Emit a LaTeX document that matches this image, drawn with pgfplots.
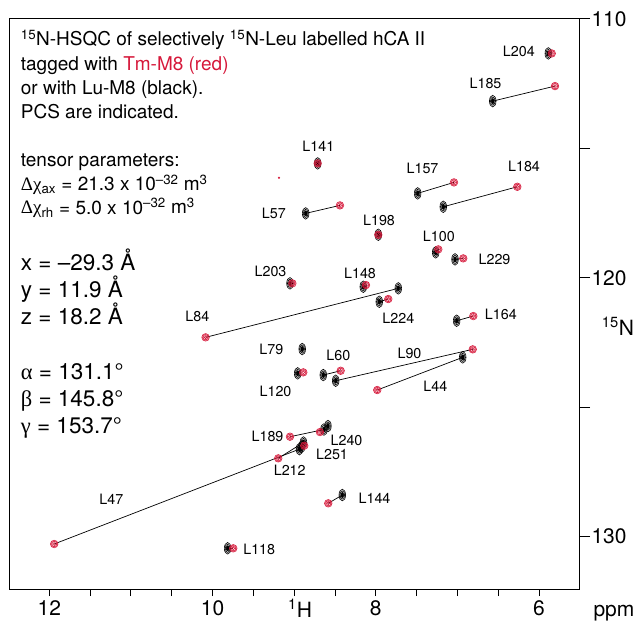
\documentclass[border=0pt]{standalone}
\usepackage{pgfplots}
\pgfplotsset{compat=1.18}
\usepackage{fontspec}
\setmainfont{TeX Gyre Heros}
\newfontfamily\grk{Liberation Serif}
\definecolor{pcsred}{RGB}{214,24,58}

\pgfdeclareplotmark{bpeak}{%
  \pgfsetlinewidth{0.6pt}%
  \pgfpathellipse{\pgfpointorigin}{\pgfqpoint{3.3pt}{0pt}}{\pgfqpoint{0pt}{5.8pt}}%
  \pgfpathellipse{\pgfpointorigin}{\pgfqpoint{2.3pt}{0pt}}{\pgfqpoint{0pt}{4.1pt}}%
  \pgfusepathqstroke
  \pgfpathellipse{\pgfpointorigin}{\pgfqpoint{1.4pt}{0pt}}{\pgfqpoint{0pt}{2.6pt}}%
  \pgfusepathqfillstroke
}
\pgfdeclareplotmark{rpeak}{%
  \pgfsetlinewidth{0.6pt}%
  \pgfpathcircle{\pgfpointorigin}{3.8pt}%
  \pgfpathcircle{\pgfpointorigin}{2.6pt}%
  \pgfpathcircle{\pgfpointorigin}{1.4pt}%
  \pgfusepathqstroke
}

\pgfplotstableread{
H N
5.886 111.336
6.567 113.178
7.487 116.741
7.173 117.259
8.712 115.583
8.859 117.514
7.969 118.340
7.266 119.019
7.029 119.290
8.153 120.347
7.724 120.409
9.051 120.216
7.957 120.927
7.009 121.660
8.901 122.753
8.957 123.691
8.643 123.757
8.491 123.977
6.935 123.073
8.635 125.861
8.586 125.726
8.908 126.525
8.886 126.362
8.935 126.618
8.410 128.390
9.815 130.448
}\blackpeaks

\pgfplotstableread{
H N
5.844 111.336
5.804 112.598
7.042 116.317
6.266 116.486
8.712 115.583
8.439 117.205
7.969 118.340
7.234 118.903
6.928 119.251
8.120 120.282
10.085 122.301
9.022 120.216
7.847 120.822
6.805 121.479
8.888 123.653
8.430 123.591
6.812 122.764
7.982 124.336
9.051 126.139
8.684 125.958
8.876 126.486
9.195 126.973
11.940 130.282
8.582 128.710
9.746 130.448
}\redpeaks

\newcommand{\lbl}{\fontsize{14.3}{14.3}\selectfont}
\newcommand{\ttl}{\fontsize{19}{19}\selectfont}
\newcommand{\bigf}{\fontsize{22.5}{22.5}\selectfont}

\begin{document}
\begin{tikzpicture}
\useasboundingbox (-9.3pt,-33pt) rectangle (629.7pt,589pt);
\begin{axis}[
  scale only axis, width=569.7pt, height=570.7pt,
  x dir=reverse, y dir=reverse,
  xmin=5.51, xmax=12.49, ymin=109.98, ymax=132.02,
  xtick={6,6.5,7,7.5,8,8.5,9,9.5,10,10.5,11,11.5,12},
  xticklabels={6,,,,8,,,,10,,,,12},
  ytick={110,115,120,125,130},
  yticklabels={110,,120,,130},
  xtick pos=bottom, ytick pos=right, tick align=outside,
  xtick style={/pgfplots/major tick length=7pt},
  ytick style={/pgfplots/major tick length=11pt},
  major tick length=9pt,
  ticklabel style={font=\fontsize{21}{21}\selectfont},
  xticklabel style={inner sep=0pt, yshift=-2pt},
  axis line style={line width=0.9pt},
  tick style={black, line width=0.9pt},
  clip=false,
]
\addplot[only marks, mark=bpeak, black] table[x=H,y=N] {\blackpeaks};
\addplot[only marks, mark=rpeak, pcsred] table[x=H,y=N] {\redpeaks};
\addplot[only marks, mark=*, mark size=0.8pt, pcsred] coordinates {(9.186,116.139)};
% PCS lines (black -> red)
\addplot[black, line width=0.7pt] coordinates {(6.567,113.178) (5.804,112.598)};
\addplot[black, line width=0.7pt] coordinates {(7.487,116.741) (7.042,116.317)};
\addplot[black, line width=0.7pt] coordinates {(7.173,117.259) (6.266,116.486)};
\addplot[black, line width=0.7pt] coordinates {(8.859,117.514) (8.439,117.205)};
\addplot[black, line width=0.7pt] coordinates {(7.029,119.290) (6.928,119.251)};
\addplot[black, line width=0.7pt] coordinates {(7.724,120.409) (10.085,122.301)};
\addplot[black, line width=0.7pt] coordinates {(7.957,120.927) (7.847,120.822)};
\addplot[black, line width=0.7pt] coordinates {(7.009,121.660) (6.805,121.479)};
\addplot[black, line width=0.7pt] coordinates {(8.643,123.757) (8.430,123.591)};
\addplot[black, line width=0.7pt] coordinates {(8.491,123.977) (6.812,122.764)};
\addplot[black, line width=0.7pt] coordinates {(6.935,123.073) (7.982,124.336)};
\addplot[black, line width=0.7pt] coordinates {(8.635,125.861) (9.051,126.139)};
\addplot[black, line width=0.7pt] coordinates {(8.886,126.362) (9.195,126.973)};
\addplot[black, line width=0.7pt] coordinates {(8.935,126.618) (11.940,130.282)};
\addplot[black, line width=0.7pt] coordinates {(8.410,128.390) (8.582,128.710)};
\addplot[black, line width=0.7pt] coordinates {(9.815,130.448) (9.746,130.448)};
\end{axis}
\begin{scope}[x=1pt,y=-1pt,shift={(-9.3pt,589pt)}]
% title block
\node[anchor=base west, font=\ttl, inner sep=0pt] at (20.7,46) {\textsuperscript{15}N-HSQC of selectively \textsuperscript{15}N-Leu labelled hCA II};
\node[anchor=base west, font=\ttl, inner sep=0pt] at (20.7,70.5) {tagged with \textcolor{pcsred}{Tm-M8 (red)}};
\node[anchor=base west, font=\ttl, inner sep=0pt] at (20.7,95) {or with Lu-M8 (black).};
\node[anchor=base west, font=\ttl, inner sep=0pt] at (20.7,119) {PCS are indicated.};
\node[anchor=base west, font=\ttl, inner sep=0pt] at (20.7,167) {tensor parameters:};
\node[anchor=base west, font=\ttl, inner sep=0pt] at (20.7,190.5) {{\grk Δχ}\textsubscript{ax} = 21.3 x 10\textsuperscript{–32} m\textsuperscript{3}};
\node[anchor=base west, font=\ttl, inner sep=0pt] at (20.7,214) {{\grk Δχ}\textsubscript{rh} = 5.0 x 10\textsuperscript{–32} m\textsuperscript{3}};
\node[anchor=base west, font=\bigf, inner sep=0pt] at (20.7,270) {x = –29.3 Å};
\node[anchor=base west, font=\bigf, inner sep=0pt] at (20.7,297.3) {y = 11.9 Å};
\node[anchor=base west, font=\bigf, inner sep=0pt] at (20.7,324.3) {z = 18.2 Å};
\node[anchor=base west, font=\bigf, inner sep=0pt] at (20.7,379.3) {{\grk α} = 131.1°};
\node[anchor=base west, font=\bigf, inner sep=0pt] at (20.7,406.7) {{\grk β} = 145.8°};
\node[anchor=base west, font=\bigf, inner sep=0pt] at (20.7,433.3) {{\grk γ} = 153.7°};
% axis labels
\node[anchor=base west, font=\fontsize{21}{21}\selectfont, inner sep=0pt] at (288,617) {\textsuperscript{1}H};
\node[anchor=base west, font=\fontsize{21}{21}\selectfont, inner sep=0pt] at (593.3,616) {ppm};
\node[anchor=base west, font=\fontsize{21}{21}\selectfont, inner sep=0pt] at (601.7,335) {\textsuperscript{15}N};
% peak labels
\node[font=\lbl] at (518.8,51.7) {L204};
\node[font=\lbl] at (485.5,83.3) {L185};
\node[font=\lbl] at (422.5,168.7) {L157};
\node[font=\lbl] at (524,166.7) {L184};
\node[font=\lbl] at (318.3,146.7) {L141};
\node[font=\lbl] at (273.8,213.8) {L57};
\node[font=\lbl] at (379,220) {L198};
\node[font=\lbl] at (438.8,236.7) {L100};
\node[font=\lbl] at (494.5,259.7) {L229};
\node[font=\lbl] at (360,273.3) {L148};
\node[font=\lbl] at (398.3,318.3) {L224};
\node[font=\lbl] at (500.8,314.7) {L164};
\node[font=\lbl] at (270.5,271.7) {L203};
\node[font=\lbl] at (197.3,316.7) {L84};
\node[font=\lbl] at (271.3,349.3) {L79};
\node[font=\lbl] at (275.5,391.7) {L120};
\node[font=\lbl] at (338.3,355) {L60};
\node[font=\lbl] at (409.5,353) {L90};
\node[font=\lbl] at (435.3,386.7) {L44};
\node[font=\lbl] at (267.5,436.2) {L189};
\node[font=\lbl] at (346.5,440.5) {L240};
\node[font=\lbl] at (332,454.7) {L251};
\node[font=\lbl] at (289.7,470) {L212};
\node[font=\lbl] at (111.3,499) {L47};
\node[font=\lbl] at (374.5,498) {L144};
\node[font=\lbl] at (259.2,549.7) {L118};
\end{scope}
\end{tikzpicture}
\end{document}
